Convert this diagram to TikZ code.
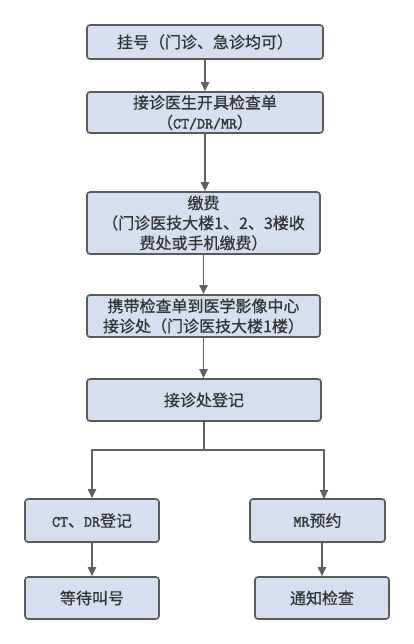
\documentclass[tikz,border=0pt]{standalone}
\usepackage{fontspec}
\setmainfont{Noto Sans CJK SC}[FakeBold=0.6]
\newfontfamily\latmono{Latin Modern Mono}[FakeBold=2]
\usetikzlibrary{arrows.meta}
\definecolor{boxfill}{HTML}{D6DFF0}
\definecolor{boxline}{HTML}{5A5A5A}
\definecolor{arrowc}{HTML}{606060}
\definecolor{txt}{HTML}{333333}
\newcommand{\lm}[1]{{\latmono\fontsize{15.5}{20}\selectfont #1}}
\begin{document}
\begin{tikzpicture}[x=1pt,y=-1pt,
  stepbox/.style={draw=boxline, fill=boxfill, line width=1.6pt, rounded corners=3pt,
    inner sep=0pt, align=center, text=txt,
    font=\fontsize{16}{20}\selectfont},
  flow/.style={draw=arrowc, line width=1.8pt, -{Triangle[length=9pt,width=8pt]}}]
\useasboundingbox[fill=white] (0,0) rectangle (414,644);
\node[stepbox, minimum width=236pt, minimum height=34pt] (b1) at (205,42) {挂号（门诊、急诊均可）};
\node[stepbox, minimum width=236pt, minimum height=41pt] (b2) at (205,112.5) {接诊医生开具检查单\\（\lm{CT/DR/MR}）};
\node[stepbox, minimum width=233pt, minimum height=62pt] (b3) at (203.5,223) {缴费\\（门诊医技大楼1、2、3楼收\\费处或手机缴费）};
\node[stepbox, minimum width=233pt, minimum height=42pt] (b4) at (203.5,316) {携带检查单到医学影像中心\\接诊处（门诊医技大楼1楼）};
\node[stepbox, minimum width=234pt, minimum height=42pt] (b5) at (204,400) {接诊处登记};
\node[stepbox, minimum width=134pt, minimum height=43pt] (ct) at (92,520.5) {\lm{CT}、\lm{DR}登记};
\node[stepbox, minimum width=135pt, minimum height=43pt] (mr) at (317.5,520.5) {\lm{MR}预约};
\node[stepbox, minimum width=134pt, minimum height=42pt] (wait) at (92,598) {等待叫号};
\node[stepbox, minimum width=134pt, minimum height=42pt] (note) at (322,598) {通知检查};
\coordinate (j) at (204,450);
\coordinate (mrin) at (324,499);
\draw[flow] (b1.south) -- (b2.north);
\draw[flow] (b2.south) -- (b2.south |- b3.north);
\draw[flow] (b3.south) -- (b4.north);
\draw[flow] (b4.south) -- (b4.south |- b5.north);
\draw[draw=arrowc, line width=1.8pt] (b5.south) -- (j);
\draw[flow] (j) -| (ct.north);
\draw[flow] (j) -| (mrin);
\draw[flow] (ct.south) -- (wait.north);
\draw[flow] (note.north |- mr.south) -- (note.north);
\end{tikzpicture}
\end{document}
